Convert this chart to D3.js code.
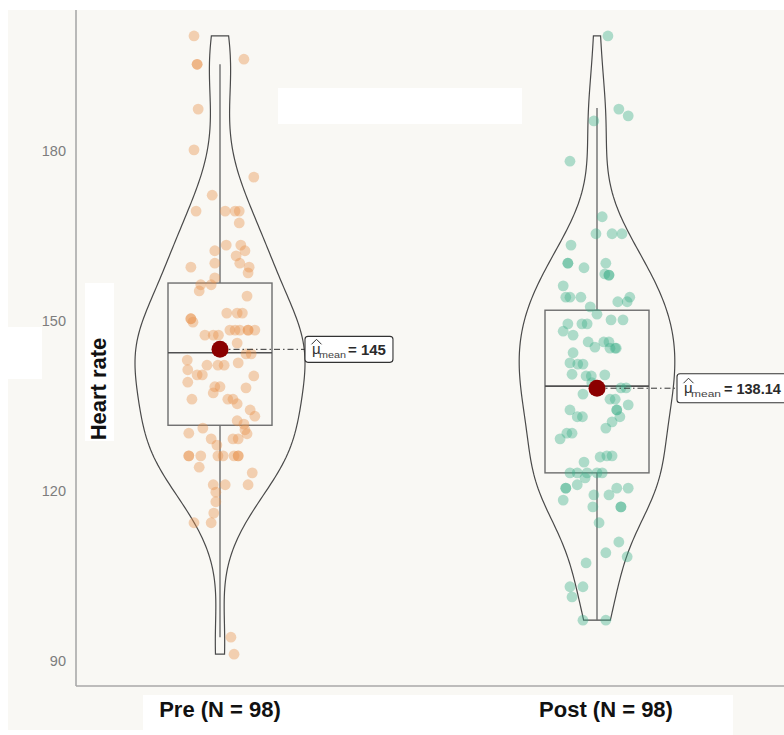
<!DOCTYPE html>
<html><head><meta charset="utf-8">
<script src="https://cdn.jsdelivr.net/npm/d3@7"></script>
<style>body{margin:0;background:#fff;} svg{display:block;font-family:Arial,"Liberation Sans",sans-serif;}</style>
</head><body><svg id="c" width="784" height="735"></svg>
<script>
const categories = ["Pre", "Post"];
const xLabels = ["Pre (N = 98)", "Post (N = 98)"];
const yTicks = [90, 120, 150, 180];
const yTitle = "Heart rate";
const meanValues = [145, 138.14];
const meanLabels = ["145", "138.14"];
const q1 = [131.6, 123.2];
const median = [144.4, 138.5];
const q3 = [156.7, 151.9];
const whiskerLow = [94.2, 97.2];
const whiskerHigh = [195.3, 187.6];

const preValues = [200.3,195.3,195.3,196.2,187.4,180.2,175.4,172.2,169.4,169.4,
169.4,169.4,167.3,162.4,163.4,163.4,162.4,161.5,160.2,159.5,
158.5,159.5,160.2,157.6,156.4,156.4,155.3,154.4,150.4,150.4,
149.8,151.4,151.4,147.5,147.5,148.4,148.4,148.4,148.4,148.4,
146.1,143.1,142.2,142.2,142.6,144.2,141.4,140.5,139.2,140.3,
138.4,137.3,138.2,136.2,136.2,135.4,134.3,133.2,132.4,131.8,
130.8,130.1,130.2,131.1,129.2,128.1,129.2,126.2,126.2,126.2,
126.2,126.2,126.2,126.2,124.2,123.2,121.1,121.1,121.1,119.8,
118.1,116.1,114.4,114.4,94.2,91.2,145.2,144.9,
148.4,142.2,140.5,138.4,136.2,147.5,151.4,144.2,129.2,126.2];
const preJitter = [-0.50,-0.44,-0.44,0.46,-0.42,-0.50,0.65,-0.15,-0.46,0.10,
0.29,0.37,0.37,-0.10,0.12,0.40,0.48,0.31,0.38,0.56,
0.54,-0.56,-0.10,-0.10,-0.17,-0.37,-0.40,0.52,-0.56,-0.56,
-0.52,0.13,0.33,-0.29,-0.13,0.19,0.38,0.54,0.54,0.67,
0.33,-0.63,-0.25,-0.04,0.35,0.50,-0.62,-0.44,-0.62,0.65,
-0.10,-0.13,0.50,-0.54,0.15,0.33,0.58,0.67,0.33,0.46,
0.48,0.52,-0.60,-0.33,-0.17,-0.06,0.25,-0.60,-0.60,-0.37,
-0.04,0.27,0.35,0.35,-0.40,0.62,0.54,-0.13,0.10,-0.08,
-0.08,-0.12,-0.50,-0.17,0.21,0.27,0.00,0.06,
0.29,0.08,-0.34,0.00,0.25,-0.03,0.43,0.60,0.35,0.06];

const postValues = [200.3,187.4,186.2,185.3,178.2,168.4,165.4,165.4,165.4,163.4,
160.2,160.2,159.4,160.2,158.3,158.1,158.1,156.2,154.2,154.2,
154.2,153.4,153.4,154.2,152.5,151.2,150.2,150.2,149.5,149.5,
148.2,147.5,146.3,145.4,146.3,145.2,145.2,144.4,142.6,142.4,
140.6,140.3,140.5,137.1,138.2,136.2,135.2,134.3,133.1,134.3,
134.3,133.1,132.2,131.1,130.2,129.2,126.0,126.2,125.1,123.2,
123.2,123.2,123.2,122.3,121.1,120.5,120.5,118.4,119.3,117.2,
119.3,120.5,120.5,117.2,117.2,114.4,111.0,109.1,108.4,107.3,
103.1,103.1,101.3,97.2,97.2,139.1,138.2,
145.2,142.4,140.3,136.2,133.1,130.2,146.3,149.5,123.2,126.2,138.2];
const postJitter = [0.21,0.42,0.60,-0.06,-0.52,0.10,-0.02,0.29,0.48,-0.50,
-0.56,-0.56,-0.25,0.17,0.15,0.23,0.23,-0.65,-0.60,-0.52,
-0.31,0.40,0.58,0.63,-0.13,0.00,0.27,0.50,-0.56,-0.29,
-0.65,-0.46,-0.17,-0.04,0.13,0.25,0.37,-0.46,-0.52,-0.37,
-0.48,-0.21,0.15,-0.27,0.56,0.25,0.60,-0.52,-0.38,0.38,
0.38,0.44,0.29,0.17,-0.58,-0.71,0.06,0.19,-0.25,-0.52,
-0.38,-0.19,0.00,-0.23,-0.38,-0.60,-0.60,-0.65,-0.06,-0.08,
0.23,0.38,0.60,0.46,0.46,0.04,0.42,0.17,0.58,-0.21,
-0.52,-0.27,-0.48,-0.27,0.17,-0.10,0.06,
0.35,-0.27,-0.11,0.35,-0.28,-0.48,0.23,-0.19,0.10,0.29,0.46];

const groupValues = [preValues, postValues];
const groupJitter = [preJitter, postJitter];
const colors = ["#E9914A", "#3DB08A"];

const svg = d3.select("#c");
const W = 784, H = 735;
const bg = "#f9f8f4";

// background and white patches
svg.append("rect").attr("width", W).attr("height", H).attr("fill", "#fff");
svg.append("rect").attr("x", 8).attr("y", 10).attr("width", W - 8).attr("height", H - 10).attr("fill", bg);
[[278, 88, 244, 36], [85, 283, 29, 158], [0, 327, 42, 52], [143, 695, 590, 40], [0, 730, 143, 5]].forEach(r => {
  svg.append("rect").attr("x", r[0]).attr("y", r[1]).attr("width", r[2]).attr("height", r[3]).attr("fill", "#fff");
});

const y = d3.scaleLinear().domain([90, 180]).range([661, 151]);
const x = d3.scalePoint().domain(categories).range([220, 597]);
const jit = d3.scaleLinear().domain([-1, 1]).range([-52, 52]);

// axes lines
svg.append("line").attr("x1", 76).attr("x2", 76).attr("y1", 10).attr("y2", 686).attr("stroke", "#a9a9a9").attr("stroke-width", 1.6);
svg.append("line").attr("x1", 76).attr("x2", W).attr("y1", 686).attr("y2", 686).attr("stroke", "#a9a9a9").attr("stroke-width", 1.6);

// y tick labels
svg.selectAll(".yt").data(yTicks).enter().append("text")
  .attr("x", 66).attr("y", d => y(d) + 5).attr("text-anchor", "end")
  .attr("font-size", 14.5).attr("fill", "#7d7d7d").text(d => d);

// y title
svg.append("text").attr("transform", "translate(106,389) rotate(-90)")
  .attr("text-anchor", "middle").attr("font-size", 22).attr("font-weight", "bold")
  .attr("fill", "#111").text(yTitle);

// x labels
svg.selectAll(".xl").data(categories).enter().append("text")
  .attr("x", (d, i) => x(d) + (i === 1 ? 9 : 0)).attr("y", 717).attr("text-anchor", "middle")
  .attr("font-size", 22).attr("font-weight", "bold").attr("fill", "#111")
  .text((d, i) => xLabels[i]);

// KDE
function nrd0(v) {
  const s = d3.deviation(v);
  const iqr = d3.quantile(v, 0.75) - d3.quantile(v, 0.25);
  return 0.9 * Math.min(s, iqr / 1.34) * Math.pow(v.length, -0.2);
}
const dens = groupValues.map(v => {
  const sorted = v.slice().sort(d3.ascending);
  const bw = nrd0(sorted) * 1.05;
  const lo = d3.min(v), hi = d3.max(v);
  const grid = d3.range(0, 161).map(i => lo + (hi - lo) * i / 160);
  return grid.map(t => [t, d3.mean(v, d => Math.exp(-0.5 * ((t - d) / bw) ** 2)) / (bw * Math.sqrt(2 * Math.PI))]);
});
const maxD = d3.max(dens, g => d3.max(g, d => d[1]));
const wScale = d3.scaleLinear().domain([0, maxD]).range([0, 85]);

dens.forEach((g, i) => {
  const cx = x(categories[i]);
  const right = g.map(d => [cx + wScale(d[1]), y(d[0])]);
  const left = g.slice().reverse().map(d => [cx - wScale(d[1]), y(d[0])]);
  svg.append("path").attr("d", d3.line()(right.concat(left)) + "Z")
    .attr("fill", "none").attr("stroke", "#4a4a4a").attr("stroke-width", 1.2);
});

// box plots
categories.forEach((c, i) => {
  const cx = x(c), hw = 52;
  const g = svg.append("g").attr("stroke", "#6e6e6e").attr("stroke-width", 1.4).attr("fill", "none");
  g.append("line").attr("x1", cx).attr("x2", cx).attr("y1", y(q3[i])).attr("y2", y(whiskerHigh[i]));
  g.append("line").attr("x1", cx).attr("x2", cx).attr("y1", y(q1[i])).attr("y2", y(whiskerLow[i]));
  g.append("rect").attr("x", cx - hw).attr("width", hw * 2).attr("y", y(q3[i])).attr("height", y(q1[i]) - y(q3[i]));
  g.append("line").attr("x1", cx - hw).attr("x2", cx + hw).attr("y1", y(median[i])).attr("y2", y(median[i])).attr("stroke", "#505050").attr("stroke-width", 1.6);
});

// points
categories.forEach((c, i) => {
  svg.append("g").selectAll("circle").data(groupValues[i]).enter().append("circle")
    .attr("cx", (d, j) => x(c) + jit(groupJitter[i][j]))
    .attr("cy", d => y(d)).attr("r", 5.4)
    .attr("fill", colors[i]).attr("fill-opacity", 0.4);
});

// mean labels
const labelOffset = [85, 80];
const subLen = [27, 30];
const valX = [43, 47];
const boxH = [26, 29];
const valSize = [15, 14.5];
categories.forEach((c, i) => {
  const cx = x(c), cy = y(meanValues[i]);
  const lx = cx + labelOffset[i];
  svg.append("line").attr("x1", cx).attr("x2", lx).attr("y1", cy).attr("y2", cy)
    .attr("stroke", "#333").attr("stroke-width", 1).attr("stroke-dasharray", "6,3,1.5,3");
  const g = svg.append("g").attr("transform", `translate(${lx},${cy})`);
  const rect = g.append("rect").attr("x", 0).attr("y", -boxH[i] / 2).attr("height", boxH[i]).attr("rx", 3)
    .attr("fill", "#fff").attr("stroke", "#333").attr("stroke-width", 1.1);
  g.append("text").attr("x", 7).attr("y", 5).attr("font-size", 15).attr("fill", "#333").text("μ");
  g.append("path").attr("d", "M6.5,-5 L11.5,-10 L16.5,-5").attr("fill", "none").attr("stroke", "#333").attr("stroke-width", 1);
  g.append("text").attr("x", 14).attr("y", 8.5).attr("font-size", 9).attr("fill", "#444")
    .attr("textLength", subLen[i]).attr("lengthAdjust", "spacingAndGlyphs").text("mean");
  const t = g.append("text").attr("x", valX[i]).attr("y", 5.5).attr("font-size", valSize[i]).attr("font-weight", 600).attr("fill", "#2a2a2a")
    .text("= " + meanLabels[i]);
  const tw = t.node().getComputedTextLength();
  rect.attr("width", valX[i] + tw + 7);
  svg.append("circle").attr("cx", cx).attr("cy", cy).attr("r", 8.5).attr("fill", "#8B0000");
});
</script></body></html>
